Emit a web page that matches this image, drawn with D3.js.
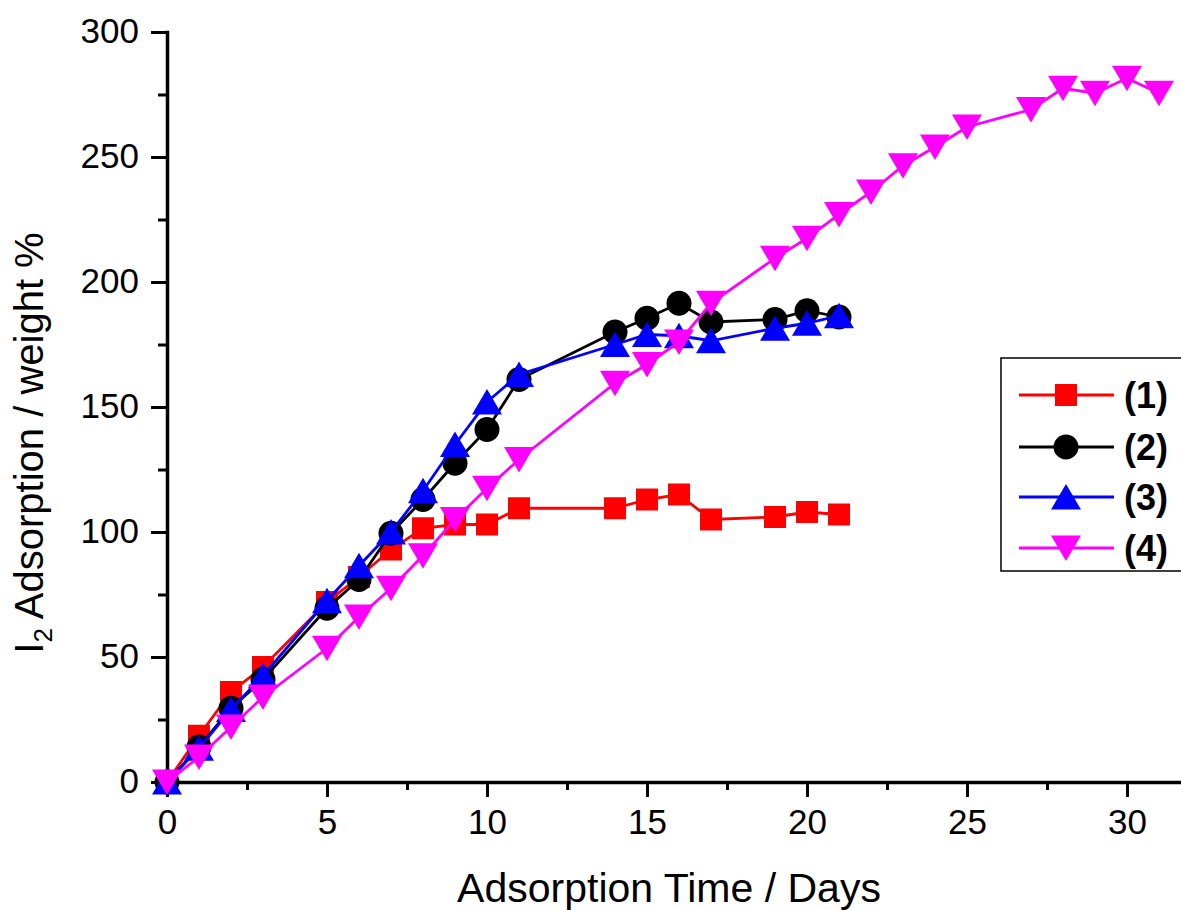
<!DOCTYPE html>
<html>
<head>
<meta charset="utf-8">
<script src="https://cdn.jsdelivr.net/npm/d3@7"></script>
<style>
  body { margin: 0; background: #fff; }
  text { font-family: Arial, "Liberation Sans", sans-serif; }
</style>
</head>
<body>
<svg id="chart" width="1181" height="910"></svg>
<script>
// data
let daysA = [0, 1, 2, 3, 5, 6, 7, 8, 9, 10, 11, 14, 15, 16, 17, 19, 20, 21];
let daysD = [0, 1, 2, 3, 5, 6, 7, 8, 9, 10, 11, 14, 15, 16, 17, 19, 20, 21, 22, 23, 24, 25, 27, 28, 29, 30, 31];
let s1 = [0, 18.5, 36, 46, 72, 82, 93, 101.5, 103, 103, 109.5, 109.5, 113, 115, 105, 106, 108, 107];
let s2 = [0, 14, 29.5, 41, 69.5, 81, 99.5, 113, 127.5, 141, 161, 180, 185.5, 191.5, 184, 185, 188.5, 186];
let s3 = [0, 13.5, 29, 42.5, 72.5, 86.5, 100, 116.5, 135, 152, 163, 175, 179, 178.5, 176.5, 181.5, 183.5, 186.5];
let s4 = [0, 10, 22, 34, 53.5, 66, 77.5, 90.5, 105, 117.5, 129, 159.5, 167, 176, 191.5, 209.5, 217.5, 227, 236, 246.5, 254, 262, 269, 277.5, 275.5, 281.5, 275.5];
let seriesNames = ["(1)", "(2)", "(3)", "(4)"];
let seriesColors = ["#ff0000", "#000000", "#0000ff", "#ff00ff"];
let seriesShapes = ["square", "circle", "up", "down"];
let xMajor = [0, 5, 10, 15, 20, 25, 30];
let yMajor = [0, 50, 100, 150, 200, 250, 300];

let svg = d3.select("#chart");

let x = d3.scaleLinear().domain([0, 32]).range([167, 1191]);
let y = d3.scaleLinear().domain([0, 300]).range([782, 32]);

let series = [
  daysA.map((d, i) => [d, s1[i]]),
  daysA.map((d, i) => [d, s2[i]]),
  daysA.map((d, i) => [d, s3[i]]),
  daysD.map((d, i) => [d, s4[i]])
];

function shapePath(shape) {
  if (shape == "square") return "M-11,-11H11V11H-11Z";
  if (shape == "circle") return d3.symbol(d3.symbolCircle, Math.PI * 12.5 * 12.5)();
  if (shape == "up") return "M0,-13L15,12.5L-15,12.5Z";
  return "M0,13L15,-12.5L-15,-12.5Z";
}

// axes
let xMinor = d3.range(2.5, 32, 5);
let yMinor = d3.range(25, 300, 50);

let gx = svg.append("g").attr("transform", "translate(0,782)");
gx.call(d3.axisBottom(x).tickValues(xMajor).tickSize(15).tickSizeOuter(0).tickPadding(12));
gx.append("g").call(d3.axisBottom(x).tickValues(xMinor).tickSize(8).tickFormat("").tickSizeOuter(0))
  .select(".domain").remove();

let gy = svg.append("g").attr("transform", "translate(167,0)");
gy.call(d3.axisLeft(y).tickValues(yMajor).tickSize(16).tickSizeOuter(0).tickPadding(12));
gy.append("g").call(d3.axisLeft(y).tickValues(yMinor).tickSize(9).tickFormat("").tickSizeOuter(0))
  .select(".domain").remove();

svg.selectAll(".domain").attr("stroke-width", 3.5).attr("stroke-linecap", "square");
svg.selectAll(".tick line").attr("stroke-width", 3);
svg.selectAll(".tick text").style("font-size", "35px").attr("fill", "#000");
gy.selectAll(".tick text").attr("dy", "0.3em");

// lines and markers
let line = d3.line().x(d => x(d[0])).y(d => y(d[1]));

series.forEach((pts, k) => {
  let g = svg.append("g");
  g.append("path")
    .attr("d", line(pts))
    .attr("fill", "none")
    .attr("stroke", seriesColors[k])
    .attr("stroke-width", 2.8);
  g.selectAll("path.m")
    .data(pts)
    .enter()
    .append("path")
    .attr("class", "m")
    .attr("d", shapePath(seriesShapes[k]))
    .attr("transform", d => `translate(${x(d[0])},${y(d[1])})`)
    .attr("fill", seriesColors[k]);
});

// axis titles
svg.append("text")
  .text("Adsorption Time / Days")
  .attr("x", 669)
  .attr("y", 902)
  .attr("text-anchor", "middle")
  .style("font-size", "41px");

let yt = svg.append("text")
  .attr("transform", "translate(43,443) rotate(-90)")
  .attr("text-anchor", "middle")
  .style("font-size", "40px");
yt.append("tspan").text("I");
yt.append("tspan").text("2").style("font-size", "26px").attr("dy", 9);
yt.append("tspan").text(" Adsorption / weight %").attr("dy", -9);

// legend
let legend = svg.append("g");
legend.append("rect")
  .attr("x", 1001)
  .attr("y", 358)
  .attr("width", 200)
  .attr("height", 213)
  .attr("fill", "#fff")
  .attr("stroke", "#000")
  .attr("stroke-width", 1.5);

let rowY = [395, 447, 497, 548];
seriesNames.forEach((name, k) => {
  let g = legend.append("g").attr("transform", `translate(0,${rowY[k]})`);
  g.append("line")
    .attr("x1", 1019).attr("x2", 1114)
    .attr("stroke", seriesColors[k])
    .attr("stroke-width", 3);
  g.append("path")
    .attr("d", shapePath(seriesShapes[k]))
    .attr("transform", "translate(1066,0)")
    .attr("fill", seriesColors[k]);
  g.append("text")
    .text(name)
    .attr("x", 1124)
    .attr("dy", "0.36em")
    .style("font-size", "36px")
    .style("font-weight", "bold");
});
</script>
</body>
</html>
